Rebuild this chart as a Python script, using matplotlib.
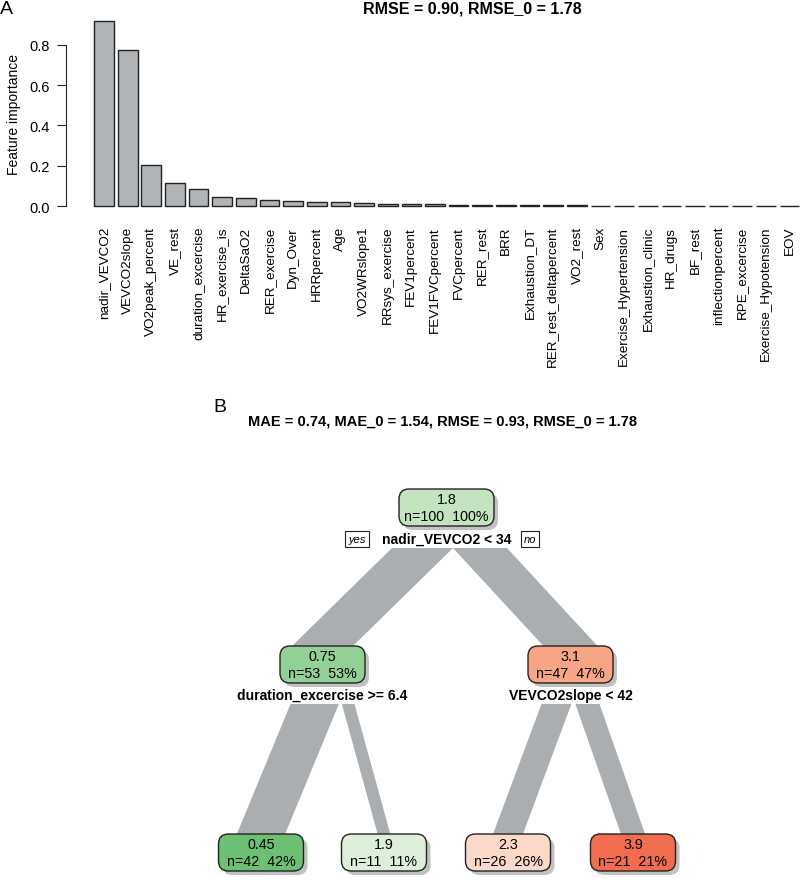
#! /usr/bin/env python

import numpy as np
import matplotlib
matplotlib.use('Agg')
import matplotlib.pyplot as plt
from matplotlib.patches import FancyBboxPatch, Polygon

plt.rcParams['font.family'] = ['Liberation Sans', 'DejaVu Sans']

# Panel A: feature importance
features = ['nadir_VEVCO2', 'VEVCO2slope', 'VO2peak_percent', 'VE_rest',
            'duration_excercise', 'HR_exercise_is', 'DeltaSaO2', 'RER_exercise',
            'Dyn_Over', 'HRRpercent', 'Age', 'VO2WRslope1', 'RRsys_exercise',
            'FEV1percent', 'FEV1FVCpercent', 'FVCpercent', 'RER_rest', 'BRR',
            'Exhaustion_DT', 'RER_rest_deltapercent', 'VO2_rest', 'Sex',
            'Exercise_Hypertension', 'Exhaustion_clinic', 'HR_drugs', 'BF_rest',
            'inflectionpercent', 'RPE_excercise', 'Exercise_Hypotension', 'EOV']
importance = [0.918, 0.774, 0.205, 0.114, 0.086, 0.047, 0.038, 0.028,
              0.025, 0.020, 0.018, 0.016, 0.012, 0.011, 0.009, 0.007,
              0.006, 0.005, 0.004, 0.003, 0.003, 0.002, 0.002, 0.002,
              0.001, 0.001, 0.001, 0.0006, 0.0004, 0.0002]
title_a = 'RMSE = 0.90, RMSE_0 = 1.78'

# Panel B: regression tree
node_vals = ['1.8', '0.75', '3.1', '0.45', '1.9', '2.3', '3.9']
node_n = [100, 53, 47, 42, 11, 26, 21]
node_pct = [100, 53, 47, 42, 11, 26, 21]
node_cols = ['#c4e3c0', '#93d095', '#f8a586', '#6cbf73', '#deefd9', '#fcd8c9', '#f26c4f']
split_labels = ['nadir_VEVCO2 < 34', 'duration_excercise >= 6.4', 'VEVCO2slope < 42']
children = {0: (1, 2), 1: (3, 4), 2: (5, 6)}
title_b = 'MAE = 0.74, MAE_0 = 1.54, RMSE = 0.93, RMSE_0 = 1.78'

W, H = 800, 879
fig = plt.figure(figsize=(W / 100, H / 100), dpi=100)

# ---- panel A ----
ax = fig.add_axes([66 / W, 1 - 214.4 / H, (W - 66) / W, 199.8 / H])
pos = 0.7 + 1.2 * np.arange(len(features))
ax.bar(pos, importance, width=1.0, color='#b1b4b6', edgecolor='#222222', linewidth=1.0)
ax.set_xlim(-1.232, 36.03)
ax.set_ylim(-0.0367, 0.955)
for s in ['top', 'right', 'bottom']:
    ax.spines[s].set_visible(False)
ax.spines['left'].set_bounds(0, 0.8)
ax.spines['left'].set_color('#222222')
ax.set_yticks([0.0, 0.2, 0.4, 0.6, 0.8])
ax.set_yticklabels(['0.0', '0.2', '0.4', '0.6', '0.8'], fontsize=10.5)
ax.tick_params(axis='y', length=6.5, pad=5, color='#222222')
ax.set_xticks(pos)
ax.set_xticklabels(features, rotation=90, fontsize=9.7)
ax.tick_params(axis='x', length=0, pad=9)
ax.set_ylabel('Feature importance', fontsize=10, labelpad=6)
fig.text(472 / W, 1 - 9 / H, title_a, ha='center', va='center', fontsize=11.5, fontweight='bold')
fig.text(0.0, 1 - 9 / H, 'A', ha='left', va='center', fontsize=14)

# ---- panel B ----
fig.text(213 / W, 1 - 407 / H, 'B', ha='left', va='center', fontsize=14)
fig.text(443 / W, 1 - 422 / H, title_b, ha='center', va='center', fontsize=10.5, fontweight='bold')

top_px = 440
tx = fig.add_axes([0, 0, 1, (H - top_px) / H])
tx.set_xlim(0, W)
tx.set_ylim(H, top_px)
tx.axis('off')

# layout of the tree (pixel positions)
leaf_x = [261, 384, 508, 633]
node_x = [0, (leaf_x[0] + leaf_x[1]) / 2, (leaf_x[2] + leaf_x[3]) / 2] + leaf_x
node_x[0] = (node_x[1] + node_x[2]) / 2
level_y = {0: 508.5, 1: 665.5, 2: 853.5}
node_level = [0, 1, 1, 2, 2, 2, 2]
box_w = [95, 85, 85, 85, 85, 85, 85]
box_h = 37
split_y = [540, 696, 696]
split_gap = [0, 3, 4]
px_per_n = 1.15
band_col = '#abaeb0'

for p, (l, r) in children.items():
    y0 = split_y[p] + 9
    y1 = level_y[node_level[l]] - box_h / 2
    tot = node_n[p] * px_per_n + split_gap[p]
    start = node_x[p] + (3 if p == 0 else 0) - tot / 2
    for c in (l, r):
        w = node_n[c] * px_per_n
        poly = Polygon([(start, y0), (start + w, y0),
                        (node_x[c] + w / 2, y1), (node_x[c] - w / 2, y1)],
                       closed=True, facecolor=band_col, edgecolor='none', zorder=1)
        tx.add_patch(poly)
        start += w + split_gap[p]

for i in range(len(node_vals)):
    cx, cy = node_x[i], level_y[node_level[i]]
    bw = box_w[i]
    shadow = FancyBboxPatch((cx - bw / 2 + 4, cy - box_h / 2 + 4), bw, box_h,
                            boxstyle='round,pad=0,rounding_size=10',
                            facecolor='#9a9a9a', edgecolor='none', alpha=0.6, zorder=2)
    tx.add_patch(shadow)
    box = FancyBboxPatch((cx - bw / 2, cy - box_h / 2), bw, box_h,
                         boxstyle='round,pad=0,rounding_size=10',
                         facecolor=node_cols[i], edgecolor='#222222', linewidth=1.0, zorder=3)
    tx.add_patch(box)
    tx.text(cx, cy - 8.5, node_vals[i], ha='center', va='center', fontsize=10.3, zorder=4)
    tx.text(cx, cy + 8.5, 'n=%d  %d%%' % (node_n[i], node_pct[i]),
            ha='center', va='center', fontsize=10.3, zorder=4)

for p in children:
    tx.text(node_x[p], split_y[p], split_labels[p], ha='center', va='center',
            fontsize=10, fontweight='bold', zorder=4,
            bbox=dict(facecolor='white', edgecolor='none', pad=1.5) if p == 0 else None)

# yes / no tags at the root
for lab, x in [('yes', 357), ('no', 530)]:
    tx.text(x, split_y[0], lab, ha='center', va='center', fontsize=8, style='italic', zorder=4,
            bbox=dict(facecolor='white', edgecolor='#222222', linewidth=0.8,
                      boxstyle='square,pad=0.25'))

fig.savefig('out.png', dpi=100)
